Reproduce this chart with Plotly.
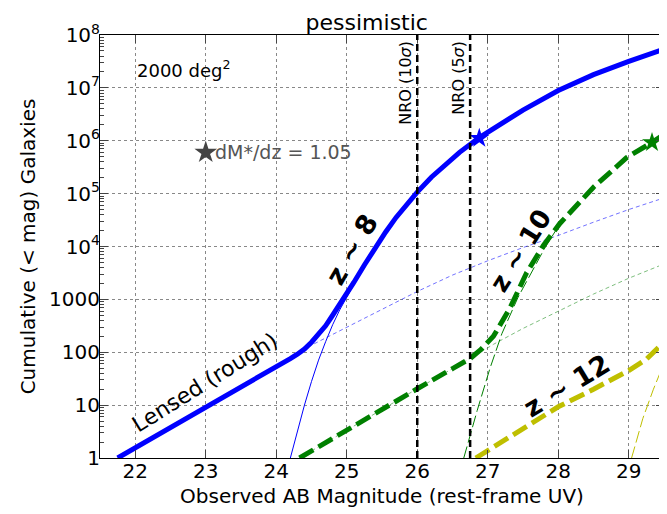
import numpy as np
import plotly.graph_objects as go

# ---- data ----
z8_total_mag = [21.75, 22.0, 22.5, 23.0, 23.5, 24.0, 24.2, 24.3, 24.4, 24.5, 24.6, 24.7, 24.8,
                24.9, 25.1, 25.25, 25.4, 25.55, 25.7, 25.85, 26.0, 26.2, 26.4, 26.6, 26.88,
                27.2, 27.5, 28.0, 28.5, 29.0, 29.5]
z8_total_n = [1.0, 1.55, 3.7, 8.9, 21, 52, 76, 92, 115, 155, 214, 316, 501,
              794, 2090, 4470, 9330, 1.86e4, 3.55e4, 6.3e4, 1.07e5, 2.04e5, 3.63e5, 6.03e5, 1.15e6,
              2.19e6, 3.8e6, 8.9e6, 1.78e7, 3.16e7, 5.4e7]

z8_intr_mag = [24.2, 24.3, 24.4, 24.5, 24.6, 24.7, 24.8, 24.9, 25.0, 25.2]
z8_intr_n = [1.0, 3.2, 10, 28, 71, 158, 331, 631, 1120, 3300]

z8_lens_mag = [24.45, 25.0, 25.5, 26.0, 26.5, 27.0, 27.5, 28.0, 28.5, 29.0, 29.5]
z8_lens_n = [126, 295, 660, 1410, 2880, 5370, 9550, 1.62e4, 2.88e4, 5.0e4, 8.3e4]

z10_total_mag = [24.33, 25.0, 25.5, 26.0, 26.5, 26.75, 26.9, 27.08, 27.32, 27.55, 27.79, 28.02,
                 28.5, 28.97, 29.33, 29.5]
z10_total_n = [1.0, 3.4, 8.3, 20.4, 49, 76, 112, 200, 708, 3160, 1.05e4, 2.7e4,
               1.32e5, 4.8e5, 9.3e5, 1.32e6]

z10_lens_mag = [24.33, 25.0, 26.0, 26.75, 27.08, 27.5, 28.0, 28.5, 29.0, 29.5]
z10_lens_n = [1.0, 3.4, 20.4, 76, 141, 282, 603, 1260, 2510, 4680]

z10_intr_mag = [26.66, 26.85, 27.03, 27.2, 27.43, 27.6, 27.8, 28.0]
z10_intr_n = [1.0, 7.9, 49, 224, 1100, 2820, 8900, 2.4e4]

z12_total_mag = [26.83, 27.5, 28.0, 28.5, 29.0, 29.25, 29.5]
z12_total_n = [1.0, 3.55, 9.3, 20, 45, 74, 155]

z12_intr_mag = [29.04, 29.2, 29.35, 29.5]
z12_intr_n = [1.0, 5.6, 20, 62]

star_z8 = (26.88, 1.12e6)
star_z10 = (29.33, 9.3e5)
star_legend = (23.0, 6.0e5)

nro_limits = [26.0, 26.75]
nro_labels = ["NRO (10<i>σ</i>)", "NRO (5<i>σ</i>)"]

x_ticks = [22, 23, 24, 25, 26, 27, 28, 29]
y_ticks = [1, 10, 100, 1000, 1e4, 1e5, 1e6, 1e7, 1e8]
y_ticktext = ["1", "10", "100", "1000", "10<sup>4</sup>", "10<sup>5</sup>",
              "10<sup>6</sup>", "10<sup>7</sup>", "10<sup>8</sup>"]

BLUE = "#0000ff"
GREEN = "#008000"
YELLOW = "#bfbf00"
FONT = "DejaVu Sans"

fig = go.Figure()

def add(x, y, color, width, dash="solid", opacity=1.0):
    fig.add_trace(go.Scatter(x=x, y=y, mode="lines", opacity=opacity,
                             line=dict(color=color, width=width, dash=dash),
                             hoverinfo="skip", showlegend=False))

# thin component lines
add(z8_lens_mag, z8_lens_n, BLUE, 1, "4px,3px", 0.55)
add(z8_intr_mag, z8_intr_n, BLUE, 1)
add(z10_lens_mag, z10_lens_n, GREEN, 1, "4px,3px", 0.5)
add(z10_intr_mag, z10_intr_n, GREEN, 1, "12px,4px")
add(z12_intr_mag, z12_intr_n, YELLOW, 1, "12px,4px")

# thick totals
add(z8_total_mag, z8_total_n, BLUE, 5)
add(z10_total_mag, z10_total_n, GREEN, 5, "16px,6px")
add(z12_total_mag, z12_total_n, YELLOW, 5, "16px,6px")

# stars
fig.add_trace(go.Scatter(x=[star_z8[0]], y=[star_z8[1]], mode="markers",
                         marker=dict(symbol="star", size=15, color=BLUE),
                         showlegend=False, hoverinfo="skip"))
fig.add_trace(go.Scatter(x=[star_z10[0]], y=[star_z10[1]], mode="markers",
                         marker=dict(symbol="star", size=15, color=GREEN),
                         showlegend=False, hoverinfo="skip"))
fig.add_trace(go.Scatter(x=[star_legend[0]], y=[star_legend[1]], mode="markers",
                         marker=dict(symbol="star", size=17, color="#444444"),
                         showlegend=False, hoverinfo="skip"))

shapes = []
annotations = []
for xm, lab in zip(nro_limits, nro_labels):
    shapes.append(dict(type="line", xref="x", yref="paper", x0=xm, x1=xm, y0=0, y1=1,
                       line=dict(color="black", width=2.5, dash="7px,4px")))
    annotations.append(dict(x=xm, y=1, xref="x", yref="paper", text=lab, showarrow=False,
                            textangle=-90, xanchor="right", yanchor="top", xshift=-1, yshift=-4,
                            font=dict(size=16, color="black", family=FONT)))

annotations += [
    dict(x=star_legend[0], y=np.log10(star_legend[1]), text="dM*/dz = 1.05", showarrow=False,
         xanchor="left", yanchor="middle", xshift=7, font=dict(size=19, color="#555555", family=FONT)),
    dict(x=22.0, y=7.36, text="2000 deg<sup>2</sup>", showarrow=False, xanchor="left",
         yanchor="middle", font=dict(size=18, color="black", family=FONT)),
    dict(x=25.07, y=3.94, text="<b>z ~ 8</b>", showarrow=False, textangle=-60,
         font=dict(size=27, color="black", family=FONT)),
    dict(x=27.46, y=3.92, text="<b>z ~ 10</b>", showarrow=False, textangle=-58,
         font=dict(size=26, color="black", family=FONT)),
    dict(x=28.12, y=1.38, text="<b>z ~ 12</b>", showarrow=False, textangle=-31,
         font=dict(size=27, color="black", family=FONT)),
    dict(x=22.99, y=1.42, text="Lensed (rough)", showarrow=False, textangle=-32,
         font=dict(size=22, color="black", family=FONT)),
]

minor_vals = [k * 10 ** n for n in range(0, 8) for k in range(2, 10)]

# the page body adds an 8px offset; the figure is sized/margined to compensate
fig.update_layout(
    width=659, height=506,
    margin=dict(l=92, r=3, t=27, b=56),
    paper_bgcolor="white", plot_bgcolor="white",
    font=dict(family=FONT, size=20, color="black"),
    title=dict(text="pessimistic", x=0.473, xref="paper", xanchor="center",
               y=1.0, yref="paper", yanchor="bottom", pad=dict(t=0, b=5),
               font=dict(size=22, family=FONT)),
    shapes=shapes, annotations=annotations,
    xaxis=dict(range=[21.5, 29.5], tickvals=x_ticks, ticks="inside", ticklen=8,
               mirror="ticks", showline=True, linecolor="black", linewidth=1,
               showgrid=True, gridcolor="#888888", griddash="dot", gridwidth=1,
               zeroline=False, tickfont=dict(size=20), ticklabelstandoff=-5,
               title=dict(text="Observed AB Magnitude (rest-frame UV)", font=dict(size=20), standoff=6)),
    yaxis=dict(type="log", range=[0, 8], tickvals=y_ticks, ticktext=y_ticktext,
               ticks="inside", ticklen=8, mirror="ticks", showline=True, linecolor="black",
               linewidth=1, showgrid=True, gridcolor="#888888", griddash="dot", gridwidth=1,
               zeroline=False, tickfont=dict(size=20), ticklabelstandoff=-5,
               minor=dict(tickvals=minor_vals, ticks="inside", ticklen=4, showgrid=False),
               title=dict(text="Cumulative (< mag) Galaxies", font=dict(size=20), standoff=8)),
)

fig.write_html("out.html")
